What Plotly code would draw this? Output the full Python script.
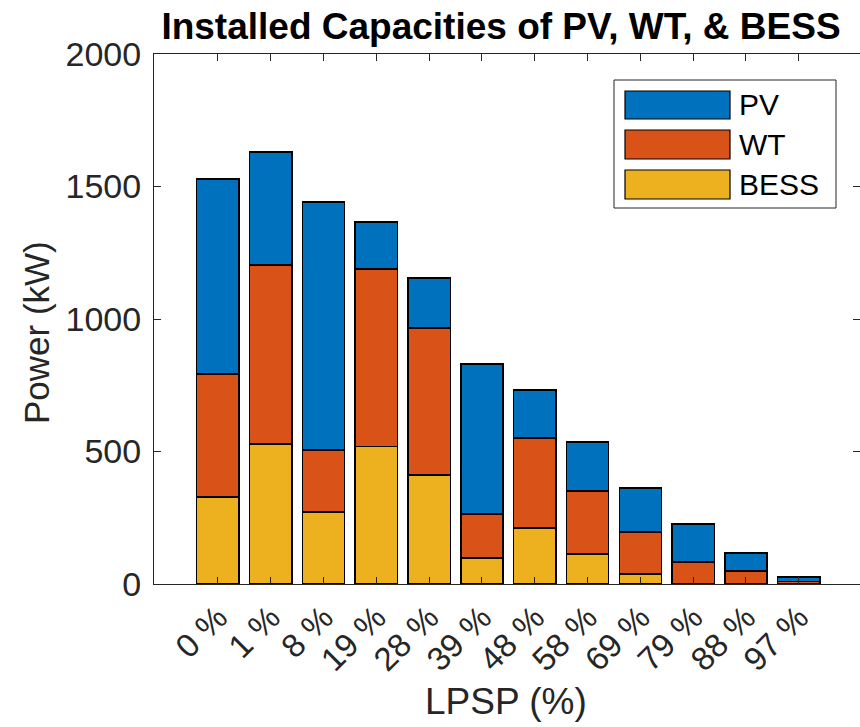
import plotly.graph_objects as go

categories = ["0 %", "1 %", "8 %", "19 %", "28 %", "39 %", "48 %", "58 %", "69 %", "79 %", "88 %", "97 %"]
series_names = ["PV", "WT", "BESS"]
pv = [736, 426, 936, 177, 189, 566, 181, 185, 166, 143, 68, 16]
wt = [464, 676, 234, 671, 554, 166, 340, 238, 158, 83, 49, 10]
bess = [328, 528, 272, 518, 412, 98, 211, 113, 38, 0, 0, 0]
y_ticks = [0, 500, 1000, 1500, 2000]

colors = {"PV": "#0072BD", "WT": "#D95319", "BESS": "#EDB120"}
data = {"PV": pv, "WT": wt, "BESS": bess}

W, H = 860, 727
L, R, T, B = 154, 0, 54, 143
pw, ph = W - L - R, H - T - B

def px(x):
    return (x - L) / pw

def py(y):
    return (H - B - y) / ph

fig = go.Figure()
for name in ["BESS", "WT", "PV"]:
    fig.add_trace(go.Bar(
        x=list(range(len(categories))), y=data[name], name=name,
        marker=dict(color=colors[name], line=dict(color="black", width=1.4)),
        width=0.8, showlegend=False,
    ))

FONT = "Liberation Sans, Arial, sans-serif"
xtick_font = dict(family=FONT, size=33, color="#262626")
ytick_font = dict(family=FONT, size=34, color="#262626")

fig.update_layout(
    width=W, height=H,
    margin=dict(l=L, r=R, t=T, b=B),
    barmode="stack",
    plot_bgcolor="white", paper_bgcolor="white",
    title=dict(text="<b>Installed Capacities of PV, WT, & BESS</b>",
               font=dict(family=FONT, size=37, color="black"),
               x=px(501), xanchor="center", y=1 - 26 / H, yanchor="middle", xref="paper"),
    xaxis=dict(range=[-1.21, 12.16], tickmode="array", tickvals=list(range(len(categories))),
               ticktext=categories, tickangle=-45, ticks="inside", ticklen=7,
               tickcolor="#262626", showline=True, linecolor="#262626", linewidth=1,
               mirror="ticks", showgrid=False, zeroline=False, tickfont=xtick_font),
    yaxis=dict(range=[0, 2000], tickmode="array", tickvals=y_ticks,
               ticks="inside", ticklen=7, tickcolor="#262626", showline=True,
               linecolor="#262626", linewidth=1, mirror="ticks", showgrid=False,
               zeroline=False, tickfont=ytick_font, ticklabelstandoff=5),
)

# axis titles
fig.add_annotation(text="LPSP (%)", xref="paper", yref="paper", x=px(506), y=py(701),
                   xanchor="center", yanchor="middle", showarrow=False,
                   font=dict(family=FONT, size=37, color="#262626"))
fig.add_annotation(text="Power (kW)", xref="paper", yref="paper", x=px(36), y=py(333),
                   xanchor="center", yanchor="middle", showarrow=False, textangle=-90,
                   font=dict(family=FONT, size=35, color="#262626"))

# legend (manual, MATLAB style)
fig.add_shape(type="rect", xref="paper", yref="paper", x0=px(614), x1=px(836), y0=py(208), y1=py(80),
              line=dict(color="#262626", width=1), fillcolor="white", layer="above")
swatch_y = [(91, 119), (130, 159), (170, 199)]
for name, (y0, y1) in zip(series_names, swatch_y):
    fig.add_shape(type="rect", xref="paper", yref="paper", x0=px(625), x1=px(730),
                  y0=py(y1), y1=py(y0), line=dict(color="black", width=1.2),
                  fillcolor=colors[name], layer="above")
    fig.add_annotation(text=name, xref="paper", yref="paper", x=px(737), y=py((y0 + y1) / 2),
                       xanchor="left", yanchor="middle", showarrow=False,
                       font=dict(family=FONT, size=30, color="black"))

fig.write_html("out.html")
